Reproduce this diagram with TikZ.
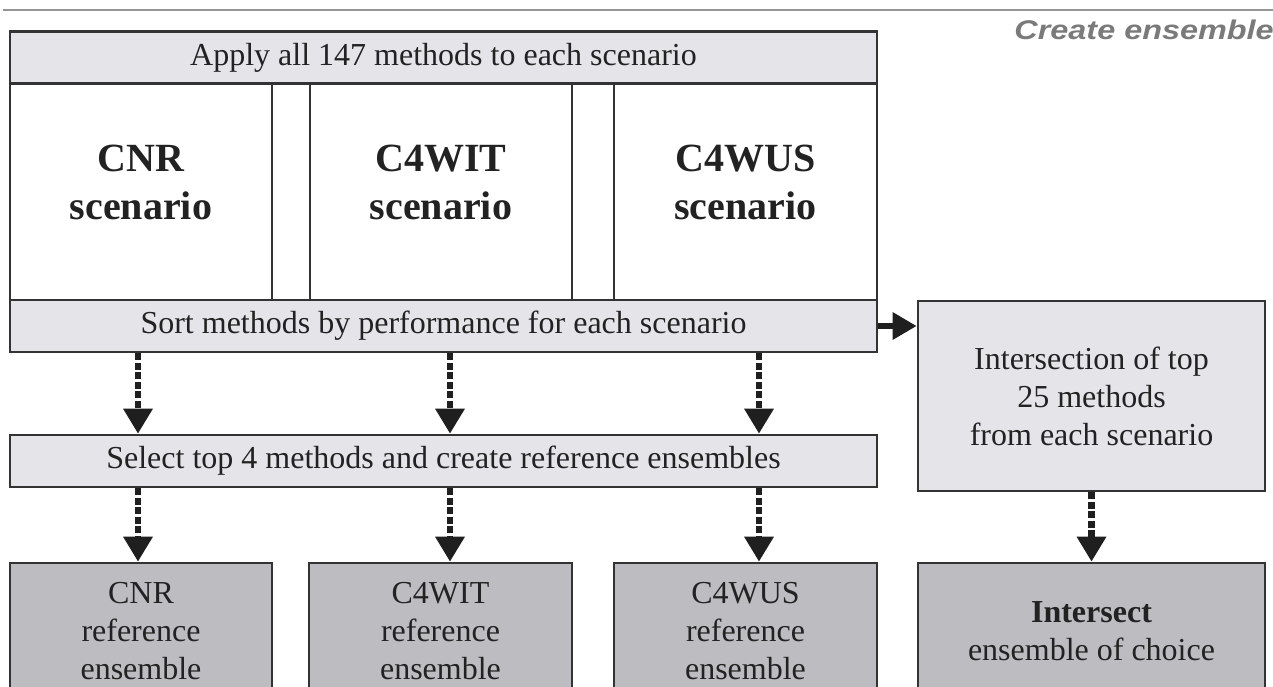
\documentclass[tikz,border=0pt]{standalone}
\usepackage{fontspec}
\setmainfont{Liberation Serif}
\newfontfamily\labelsans{Liberation Sans}
\usetikzlibrary{arrows.meta}

\definecolor{boxline}{HTML}{333333}
\definecolor{lightfill}{HTML}{E5E5E9}
\definecolor{darkfill}{HTML}{BDBDC1}
\definecolor{inktext}{HTML}{222222}
\definecolor{titlegrey}{HTML}{7A7A7A}

\tikzset{
  x=1pt, y=-1pt,
  panel/.style={draw=boxline, line width=2.6pt, inner sep=0pt, text=inktext,
    font=\fontsize{32}{38}\selectfont, align=center},
  bar/.style={panel, fill=lightfill, minimum width=867pt, minimum height=52pt},
  column/.style={draw=boxline, line width=2.6pt, fill=white, inner sep=0pt,
    minimum height=217pt},
  scen/.style={text=inktext, font=\fontsize{40}{48}\selectfont\bfseries, align=center},
  result/.style={panel, fill=darkfill, minimum height=137pt},
  flow/.style={line width=6.5pt, draw=black!88, dash pattern=on 7pt off 2.5pt,
    -{Triangle[width=28pt,length=25pt]}},
  push/.style={line width=6.5pt, draw=black!88, -{Triangle[width=26pt,length=24pt]}}
}

\begin{document}
\begin{tikzpicture}
\useasboundingbox (0,0) rectangle (1273,686);
\clip (0,0) rectangle (1273,686);

% rule and section title
\coordinate (ruleL) at (3,10);
\coordinate (ruleR) at (1273,10);
\draw[titlegrey!80, line width=2pt] (ruleL) -- (ruleR);
\node[anchor=east, text=titlegrey, font=\labelsans\fontsize{27}{30}\selectfont\bfseries\itshape,
  xscale=1.2, transform shape, inner sep=0pt] (title) at (1274,30) {Create ensemble};

% scenario columns
\node[column, minimum width=262pt] (cnr)  at (141,191.5) {};
\node[column, minimum width=38pt]  (gapA) at (291,191.5) {};
\node[column, minimum width=262pt] (cwit) at (441,191.5) {};
\node[column, minimum width=42pt]  (gapB) at (593,191.5) {};
\node[column, minimum width=263pt] (cwus) at (745.5,191.5) {};
\node[scen] (cnrT)  at (141,182) {CNR\\scenario};
\node[scen] (cwitT) at (441,182) {C4WIT\\scenario};
\node[scen] (cwusT) at (745.5,182) {C4WUS\\scenario};

% full-width bars
\node[bar] (apply)  at (443.5,57.5) {Apply all 147 methods to each scenario};
\node[bar] (sort)   at (443.5,326)  {Sort methods by performance for each scenario};
\node[bar] (select) at (443.5,461)  {Select top 4 methods and create reference ensembles};

% intersection branch
\node[panel, fill=lightfill, minimum width=347pt, minimum height=190pt] (inter)
  at (1091.5,396) {Intersection of top\\25 methods\\from each scenario};

% resulting ensembles
\node[result, minimum width=262pt] (rcnr)  at (141,631.5)   {CNR\\reference\\ensemble};
\node[result, minimum width=263pt] (rwit)  at (440.5,631.5) {C4WIT\\reference\\ensemble};
\node[result, minimum width=263pt] (rwus)  at (745.5,631.5) {C4WUS\\reference\\ensemble};
\node[result, minimum width=347pt] (rint)  at (1091.5,631.5) {\textbf{Intersect}\\ensemble of choice};

% arrow columns
\coordinate (c1) at (138,0);
\coordinate (c2) at (450,0);
\coordinate (c3) at (759,0);

\foreach \c in {c1,c2,c3}{
  \draw[flow] (sort.south -| \c) -- (select.north -| \c);
  \draw[flow] (select.south -| \c) -- (rcnr.north -| \c);
}
\draw[flow] (inter.south) -- (rint.north);
\draw[push] (sort.east) -- (sort.east -| inter.west);
\end{tikzpicture}
\end{document}
